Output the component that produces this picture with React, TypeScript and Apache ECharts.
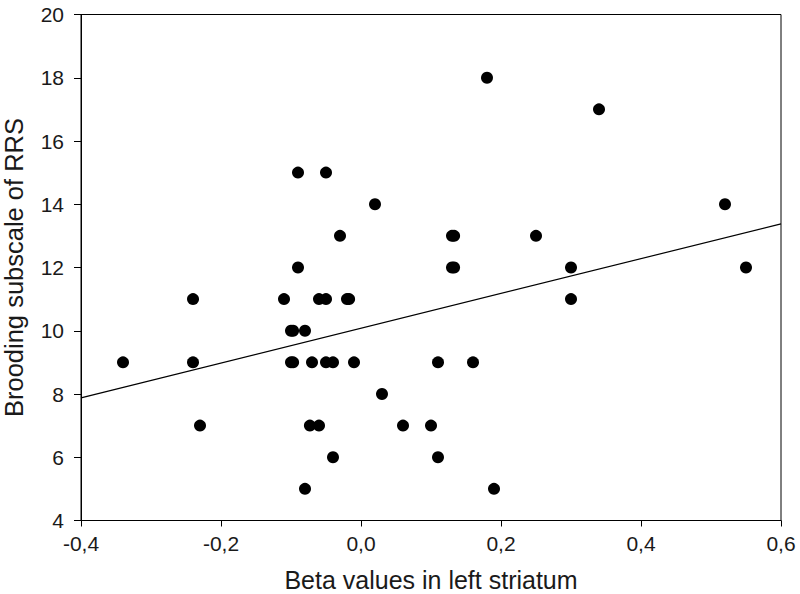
import React, { useEffect, useRef } from "react";
import * as echarts from "echarts";

const betaValues: number[] = [
  -0.34, -0.24, -0.24, -0.23, -0.11, -0.1, -0.097, -0.1, -0.097, -0.09, -0.09,
  -0.08, -0.08, -0.07, -0.073, -0.06, -0.06, -0.05, -0.05, -0.05, -0.04, -0.04,
  -0.03, -0.02, -0.017, -0.01, 0.02, 0.03, 0.06, 0.1, 0.11, 0.11, 0.13, 0.133,
  0.13, 0.133, 0.16, 0.18, 0.19, 0.25, 0.3, 0.3, 0.34, 0.52, 0.55,
];
const broodingScores: number[] = [
  9, 11, 9, 7, 11, 10, 10, 9, 9, 15, 12,
  10, 5, 9, 7, 11, 7, 15, 11, 9, 9, 6,
  13, 11, 11, 9, 14, 8, 7, 7, 9, 6, 13, 13,
  12, 12, 9, 18, 5, 13, 12, 11, 17, 14, 12,
];
const fitLineX: number[] = [-0.4, 0.6];
const fitLineY: number[] = [7.88, 13.38];
const yTicks: number[] = [4, 6, 8, 10, 12, 14, 16, 18, 20];

const FONT = "'Liberation Sans', Arial, sans-serif";
const TEXT = "#1a1a1a";

export default function App() {
  const ref = useRef<HTMLDivElement>(null);
  useEffect(() => {
    if (!ref.current) return;
    const chart = echarts.init(ref.current, null, { renderer: "svg" });
    const points = betaValues.map((x, i) => [x, broodingScores[i]]);
    const line = fitLineX.map((x, i) => [x, fitLineY[i]]);
    chart.setOption({
      animation: false,
      backgroundColor: "#ffffff",
      grid: {
        left: 81,
        top: 14.5,
        width: 700,
        height: 506,
        containLabel: false,
        outerBoundsMode: "none",
        show: true,
        borderColor: "#000",
        borderWidth: 1,
        backgroundColor: "transparent",
      },
      xAxis: {
        type: "value",
        min: -0.4,
        max: 0.6,
        interval: 0.2,
        name: "Beta values in left striatum",
        nameLocation: "middle",
        nameGap: 47,
        nameTextStyle: { fontFamily: FONT, fontSize: 25, color: TEXT },
        axisLine: { show: true, onZero: false, lineStyle: { color: "#000", width: 1 } },
        axisTick: { show: true, inside: false, length: 6, lineStyle: { color: "#000" } },
        axisLabel: {
          fontFamily: FONT,
          fontSize: 21,
          color: TEXT,
          margin: 12,
          formatter: (v: number) => v.toFixed(1).replace(".", ","),
        },
        splitLine: { show: false },
      },
      yAxis: {
        type: "value",
        min: yTicks[0],
        max: yTicks[yTicks.length - 1],
        interval: 2,
        name: "Brooding subscale of RRS",
        nameLocation: "middle",
        nameGap: 54,
        nameTextStyle: { fontFamily: FONT, fontSize: 25.5, color: TEXT },
        axisLine: { show: true, onZero: false, lineStyle: { color: "#000", width: 1 } },
        axisTick: { show: true, inside: false, length: 7, lineStyle: { color: "#000" } },
        axisLabel: { fontFamily: FONT, fontSize: 21, color: TEXT, margin: 17 },
        splitLine: { show: false },
      },
      series: [
        {
          type: "line",
          data: line,
          symbol: "none",
          lineStyle: { color: "#000", width: 1.2 },
          silent: true,
          z: 1,
        },
        {
          type: "scatter",
          data: points,
          symbol: "circle",
          symbolSize: 12,
          itemStyle: { color: "#000", opacity: 1 },
          z: 2,
        },
      ],
    });
    return () => chart.dispose();
  }, []);
  return (
    <div
      ref={ref}
      style={{ position: "fixed", left: 0, top: 0, width: 800, height: 594, background: "#fff" }}
    />
  );
}
